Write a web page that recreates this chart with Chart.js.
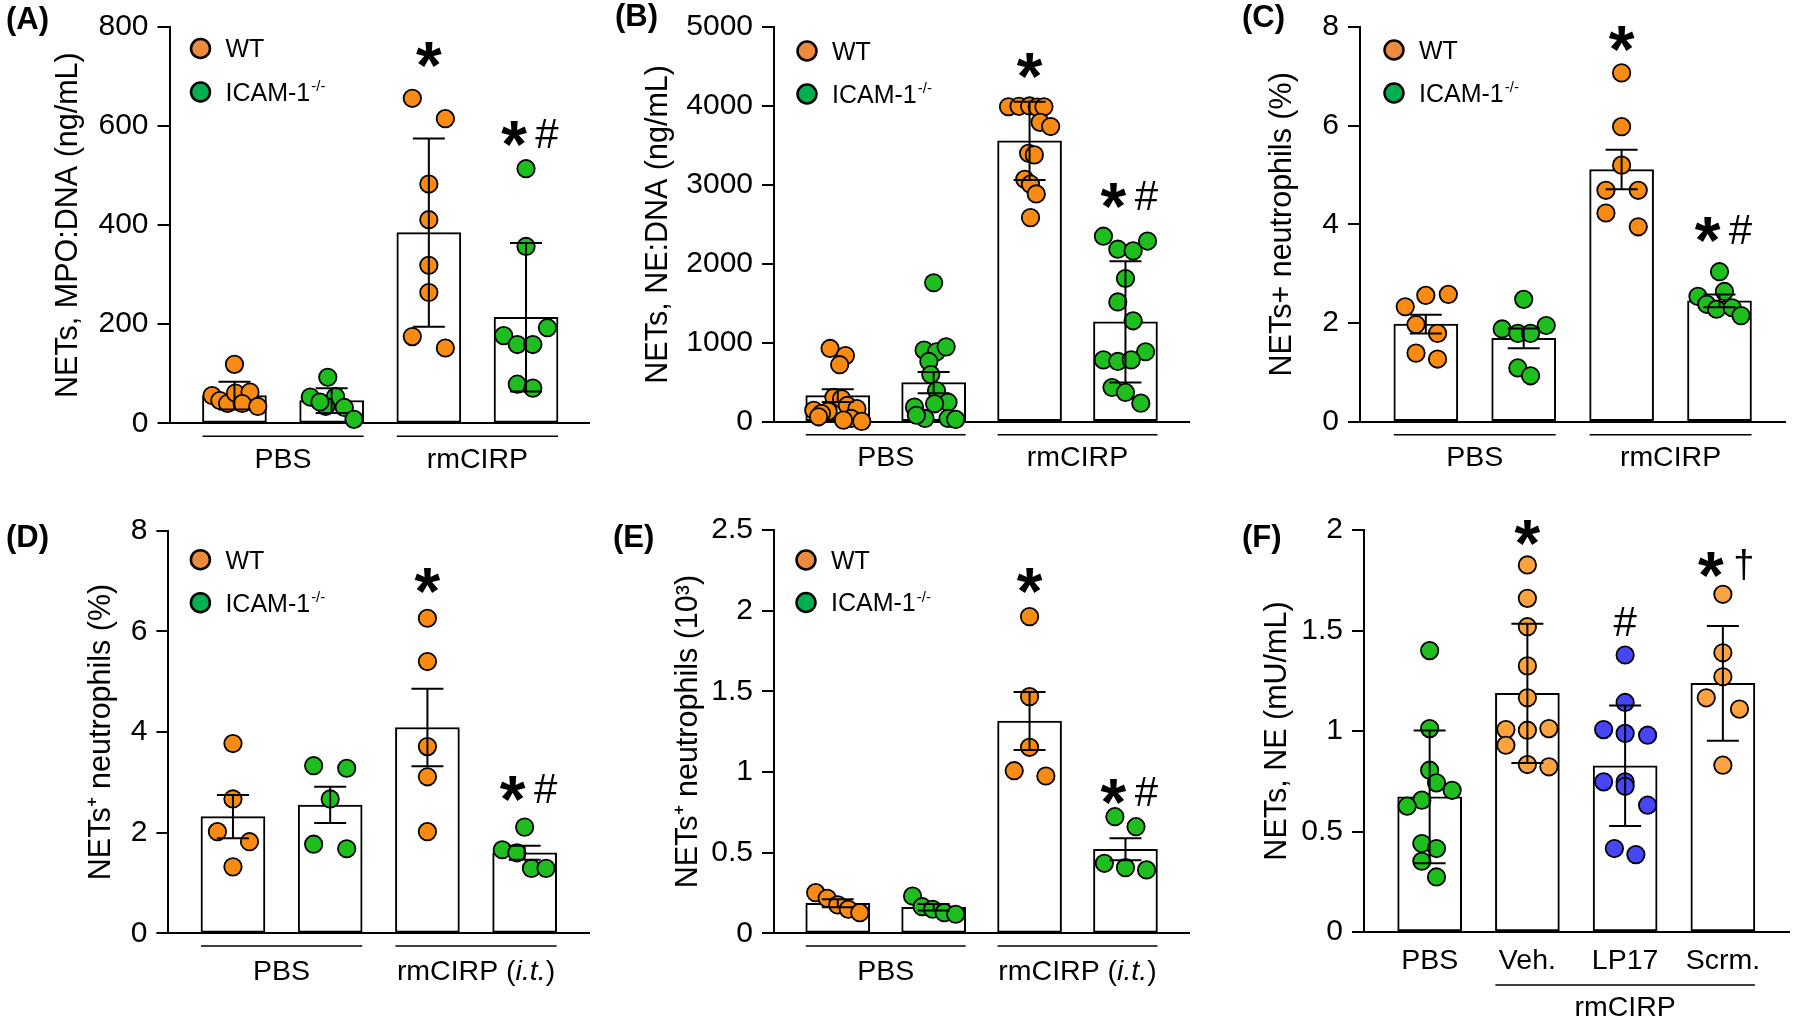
<!DOCTYPE html>
<html>
<head>
<meta charset="utf-8">
<script src="https://cdn.jsdelivr.net/npm/chart.js@4.4.1/dist/chart.umd.min.js"></script>
<style>
  body { margin: 0; background: #fff; }
  #fig { position: relative; width: 1800px; height: 1024px; background: #fff; }
  canvas { position: absolute; }
</style>
</head>
<body>
<div id="fig">
  <canvas id="cA" width="600" height="490" style="left:0px;top:0px"></canvas>
  <canvas id="cB" width="600" height="490" style="left:600px;top:0px"></canvas>
  <canvas id="cC" width="600" height="490" style="left:1200px;top:0px"></canvas>
  <canvas id="cD" width="600" height="534" style="left:0px;top:490px"></canvas>
  <canvas id="cE" width="600" height="534" style="left:600px;top:490px"></canvas>
  <canvas id="cF" width="600" height="534" style="left:1200px;top:490px"></canvas>
</div>
<script>
// ---- data ----
const legendLabels = ['WT', 'ICAM-1'];
const legendSup = ['', '-/-'];
const groupLabelsTop = ['PBS', 'rmCIRP'];
const groupLabelsDE = ['PBS', 'rmCIRP (i.t.)'];
const fLabels = ['PBS', 'Veh.', 'LP17', 'Scrm.'];
const fGroupLabel = 'rmCIRP';

// (A) MPO:DNA
const aTicks = [0, 200, 400, 600, 800];
const aMeans = [56, 46, 385, 214];
const aErr = [28, 25, 190, 150];
const aPointsY = [[119, 56, 46, 40, 61, 63, 40, 34], [93, 53, 54, 34, 32, 8, 43],
  [656, 615, 483, 411, 319, 264, 175, 152], [514, 357, 177, 159, 159, 193, 79, 71]];
const aPointsX = [[0, -0.23, -0.15, -0.07, 0.01, 0.16, 0.08, 0.24], [-0.04, -0.22, 0.04, -0.06, 0.13, 0.23, -0.12],
  [-0.17, 0.17, 0, 0, 0, 0, -0.17, 0.17], [0, 0, -0.23, -0.09, 0.07, 0.22, -0.09, 0.07]];
const aMarks = ['', '', '*', '*#'];
const aMarkAt = [0, 0, 744, 586];

// (B) NE:DNA
const bTicks = [0, 1000, 2000, 3000, 4000, 5000];
const bMeans = [330, 495, 3557, 1265];
const bErr = [82, 136, 495, 767];
const bPointsY = [[928, 837, 722, 309, 289, 206, 165, 144, 132, 103, 62, 41, 20, 4],
  [1760, 907, 886, 948, 763, 598, 392, 247, 185, 227, 41, 41, 29, 82],
  [3990, 3995, 4000, 3985, 3990, 3792, 3739, 3400, 3380, 3071, 3009, 2885, 2585],
  [2350, 2288, 2185, 2164, 1814, 1517, 1278, 886, 783, 763, 783, 433, 371, 235]];
const bPointsX = [[-0.08, 0.08, 0.02, -0.04, 0.04, 0.10, 0.2, -0.25, -0.1, -0.17, -0.2, 0.14, 0.06, 0.25],
  [0, -0.1, 0.03, 0.13, -0.05, -0.03, 0.03, 0.15, -0.2, 0.01, -0.09, 0.15, 0.23, -0.18],
  [-0.22, -0.11, 0, 0.08, 0.15, 0.11, 0.22, -0.01, 0.05, -0.05, 0.01, 0.07, 0.01],
  [-0.23, 0.23, -0.08, 0.08, 0, -0.08, 0.08, 0.21, -0.23, -0.08, 0.06, -0.14, 0, 0.16]];
const bMarks = ['', '', '*', '*#'];
const bMarkAt = [0, 0, 4512, 2864];

// (C) NETs+ neutrophils (%)
const cTicks = [0, 2, 4, 6, 8];
const cMeans = [1.98, 1.69, 5.11, 2.45];
const cErr = [0.19, 0.2, 0.4, 0.13];
const cPointsY = [[2.33, 2.56, 2.58, 1.97, 1.79, 1.39, 1.27], [2.48, 1.88, 1.95, 1.79, 1.79, 1.09, 0.93],
  [7.07, 5.98, 5.2, 4.69, 4.69, 4.23, 3.95], [3.04, 2.64, 2.54, 2.38, 2.28, 2.31, 2.15]];
const cPointsX = [[-0.21, 0, 0.23, -0.1, 0.12, -0.1, 0.12], [0, -0.22, 0.23, -0.06, 0.07, -0.06, 0.07],
  [0, 0, 0, -0.16, 0.17, -0.16, 0.17], [0, 0.05, -0.22, -0.13, -0.03, 0.13, 0.22]];
const cMarks = ['', '', '*', '*#'];
const cMarkAt = [0, 0, 7.77, 3.9];

// (D) NETs+ neutrophils (%), i.t.
const dTicks = [0, 2, 4, 6, 8];
const dMeans = [2.32, 2.55, 4.09, 1.60];
const dErr = [0.43, 0.36, 0.77, 0.14];
const dPointsY = [[3.77, 2.67, 2.02, 1.82, 1.32], [3.33, 3.28, 2.67, 1.77, 1.68],
  [6.26, 5.40, 3.71, 3.11, 2.02], [2.11, 1.66, 1.60, 1.29, 1.29]];
const dPointsX = [[0, 0, -0.16, 0.17, 0], [-0.17, 0.17, 0, -0.17, 0.17],
  [0, 0, 0, 0, 0], [0, -0.23, -0.08, 0.07, 0.22]];
const dMarks = ['', '', '*', '*#'];
const dMarkAt = [0, 0, 7.02, 2.88];

// (E) NETs+ neutrophils (10^3)
const eTicks = [0, 0.5, 1, 1.5, 2, 2.5];
const eMeans = [0.186, 0.161, 1.316, 0.521];
const eErr = [0.025, 0.02, 0.18, 0.068];
const ePointsY = [[0.252, 0.217, 0.176, 0.149, 0.128], [0.231, 0.165, 0.149, 0.128, 0.118],
  [1.963, 1.467, 1.153, 1.008, 0.975], [0.723, 0.661, 0.434, 0.407, 0.393]];
const ePointsX = [[-0.23, -0.11, 0, 0.11, 0.23], [-0.22, -0.12, -0.01, 0.11, 0.23],
  [0, 0, 0, -0.16, 0.17], [-0.11, 0.11, -0.22, 0, 0.22]];
const eMarks = ['', '', '*', '*#'];
const eMarkAt = [0, 0, 2.19, 0.878];

// (F) NETs, NE (mU/mL)
const fTicks = [0, 0.5, 1, 1.5, 2];
const fMeans = [0.672, 1.187, 0.827, 1.237];
const fErr = [0.33, 0.346, 0.30, 0.286];
const fPointsY = [[1.40, 1.012, 0.805, 0.742, 0.705, 0.656, 0.626, 0.44, 0.415, 0.352, 0.274],
  [1.826, 1.66, 1.519, 1.324, 1.165, 1.007, 1.004, 1.012, 0.929, 0.833, 0.822],
  [1.378, 1.142, 1.007, 0.988, 0.979, 0.747, 0.747, 0.725, 0.631, 0.415, 0.385],
  [1.68, 1.389, 1.27, 1.165, 1.109, 0.83]];
const fPointsX = [[0, 0, 0, 0.07, 0.23, -0.08, -0.23, -0.08, 0.07, -0.08, 0.07],
  [0, 0, 0, 0, 0, -0.22, 0, 0.22, -0.22, 0, 0.22],
  [0, 0, -0.22, 0, 0.23, -0.22, 0, 0, 0.23, -0.11, 0.11],
  [0, 0, 0, -0.17, 0.17, 0]];
const fMarks = ['', '*', '#', '*†'];
const fMarkAt = [0, 1.99, 1.543, 1.826];

// ---- styling ----
const FONT = '"Liberation Sans", Arial, Helvetica, sans-serif';
const ORANGE = '#F98B12';
const GREEN = '#1FBE1F';
const LEG_ORANGE = '#EC8A3E';
const LEG_GREEN = '#00B050';
const F_ORANGE = '#FCA340';
const F_BLUE = '#4646F6';

Chart.defaults.font.family = FONT;
Chart.defaults.color = '#000';

const panels = [
  { id: 'cA', letter: '(A)', title: 'NETs, MPO:DNA (ng/mL)', ticks: aTicks, means: aMeans, err: aErr, py: aPointsY, px: aPointsX,
    marks: aMarks, markAt: aMarkAt, colors: [ORANGE, GREEN, ORANGE, GREEN], groups: groupLabelsTop,
    box: [0, 0, 600, 490], axisX: 169.5, right: 593, top: 20, bottom: 423.3, firstBar: 235, step: 98,
    titleX: 69, legend: [31, 21.5, 65], letterPos: [6, 21] },
  { id: 'cB', letter: '(B)', title: 'NETs, NE:DNA (ng/mL)', ticks: bTicks, means: bMeans, err: bErr, py: bPointsY, px: bPointsX,
    marks: bMarks, markAt: bMarkAt, colors: [ORANGE, GREEN, ORANGE, GREEN], groups: groupLabelsTop,
    box: [600, 0, 600, 490], axisX: 774, right: 1199, top: 17.3, bottom: 421.7, firstBar: 839.2, step: 98.1,
    titleX: 659, legend: [33, 24, 67], letterPos: [615, 18] },
  { id: 'cC', letter: '(C)', title: 'NETs+ neutrophils (%)', ticks: cTicks, means: cMeans, err: cErr, py: cPointsY, px: cPointsX,
    marks: cMarks, markAt: cMarkAt, colors: [ORANGE, GREEN, ORANGE, GREEN], groups: groupLabelsTop,
    box: [1200, 0, 600, 490], axisX: 1360, right: 1785.5, top: 18.3, bottom: 421.7, firstBar: 1425.8, step: 97.9,
    titleX: 1283, legend: [34, 23, 66], letterPos: [1242, 19] },
  { id: 'cD', letter: '(D)', title: 'NETs\u207A neutrophils (%)', ticks: dTicks, means: dMeans, err: dErr, py: dPointsY, px: dPointsX,
    marks: dMarks, markAt: dMarkAt, colors: [ORANGE, GREEN, ORANGE, GREEN], groups: groupLabelsDE,
    box: [0, 490, 600, 534], axisX: 168.4, right: 592.4, top: 530.7, bottom: 933.3, firstBar: 233.4, step: 97.9,
    titleX: 102, legend: [32, 29, 72], letterPos: [6, 539] },
  { id: 'cE', letter: '(E)', title: 'NETs\u207A neutrophils (10\u00B3)', ticks: eTicks, means: eMeans, err: eErr, py: ePointsY, px: ePointsX,
    marks: eMarks, markAt: eMarkAt, colors: [ORANGE, GREEN, ORANGE, GREEN], groups: groupLabelsDE,
    box: [600, 490, 600, 534], axisX: 774, right: 1199, top: 530, bottom: 933.3, firstBar: 839.2, step: 98.1,
    titleX: 689, legend: [32, 30, 72.5], letterPos: [613, 539] },
  { id: 'cF', letter: '(F)', title: 'NETs, NE (mU/mL)', ticks: fTicks, means: fMeans, err: fErr, py: fPointsY, px: fPointsX,
    marks: fMarks, markAt: fMarkAt, colors: [GREEN, F_ORANGE, F_BLUE, F_ORANGE], groups: null,
    box: [1200, 490, 600, 534], axisX: 1364, right: 1795, top: 530, bottom: 932, firstBar: 1430.5, step: 99,
    titleX: 1277.5, legend: null, letterPos: [1242, 539] }
];

const panelById = {};
panels.forEach(p => { panelById[p.id] = p; });

// text centred on its cap height
function capText(ctx, str, x, yc, size, style, align) {
  ctx.font = (style || '') + ' ' + size + 'px ' + FONT;
  ctx.textAlign = align || 'center';
  ctx.textBaseline = 'alphabetic';
  ctx.fillText(str, x, yc + size * 0.358);
}

// text centred on its real glyph box
function glyphText(ctx, str, x, yc, font, align) {
  ctx.font = font;
  ctx.textAlign = align || 'center';
  ctx.textBaseline = 'alphabetic';
  const m = ctx.measureText(str);
  ctx.fillText(str, x, yc + (m.actualBoundingBoxAscent - m.actualBoundingBoxDescent) / 2);
}

// group label, "i.t." in italics
function groupText(ctx, text, cx, yc, size) {
  const m = text.match(/^(.*\()(i\.t\.)(\).*)$/);
  const runs = m ? [[m[1], ''], [m[2], 'italic '], [m[3], '']] : [[text, '']];
  let total = 0;
  runs.forEach(r => {
    ctx.font = r[1] + size + 'px ' + FONT;
    r[2] = ctx.measureText(r[0]).width;
    total += r[2];
  });
  let x = cx - total / 2;
  ctx.textAlign = 'left';
  ctx.textBaseline = 'alphabetic';
  runs.forEach(r => {
    ctx.font = r[1] + size + 'px ' + FONT;
    ctx.fillText(r[0], x, yc + size * 0.358);
    x += r[2];
  });
}

function markFont(ch) {
  if (ch === '*') return 'bold 66px ' + FONT;
  if (ch === '#') return '42px ' + FONT;
  return '38px ' + FONT;
}

const extras = {
  id: 'extras',
  afterDatasetsDraw(chart) {
    const p = panelById[chart.canvas.id];
    const ctx = chart.ctx, xs = chart.scales.x, ys = chart.scales.y;
    ctx.save();
    ctx.strokeStyle = '#000';
    ctx.lineWidth = 2;
    p.means.forEach((m, i) => {
      const cx = xs.getPixelForValue(i + 1);
      const t = ys.getPixelForValue(m + p.err[i]);
      const b = ys.getPixelForValue(m - p.err[i]);
      ctx.beginPath();
      ctx.moveTo(cx, t); ctx.lineTo(cx, b);
      ctx.moveTo(cx - 16, t); ctx.lineTo(cx + 16, t);
      ctx.moveTo(cx - 16, b); ctx.lineTo(cx + 16, b);
      ctx.stroke();
    });
    ctx.restore();
  },
  afterDraw(chart) {
    const p = panelById[chart.canvas.id];
    const ctx = chart.ctx, xs = chart.scales.x, ys = chart.scales.y;
    const area = chart.chartArea;
    const ox = p.box[0], oy = p.box[1];
    ctx.save();
    ctx.fillStyle = '#000';
    ctx.strokeStyle = '#000';

    // panel letter
    glyphText(ctx, p.letter, p.letterPos[0] - ox, p.letterPos[1] - oy, 'bold 31px ' + FONT, 'left');

    // legend
    if (p.legend) {
      const lx = area.left + p.legend[0];
      [LEG_ORANGE, LEG_GREEN].forEach((col, k) => {
        const ly = area.top + p.legend[k + 1];
        ctx.beginPath();
        ctx.arc(lx, ly, 9.5, 0, Math.PI * 2);
        ctx.fillStyle = col;
        ctx.fill();
        ctx.lineWidth = 2.5;
        ctx.stroke();
        ctx.fillStyle = '#000';
        capText(ctx, legendLabels[k], lx + 25, ly, 25, '', 'left');
        if (legendSup[k]) {
          ctx.font = '25px ' + FONT;
          const w = ctx.measureText(legendLabels[k]).width;
          ctx.font = '15px ' + FONT;
          ctx.textAlign = 'left';
          ctx.fillText(legendSup[k], lx + 25 + w + 1, ly - 1);
        }
      });
    }

    // significance marks
    p.marks.forEach((mk, i) => {
      if (!mk) return;
      const cx = xs.getPixelForValue(i + 1);
      const yc = ys.getPixelForValue(p.markAt[i]);
      if (mk.length === 1) {
        glyphText(ctx, mk, cx, yc, markFont(mk));
      } else {
        glyphText(ctx, mk[0], cx - 12, yc, markFont(mk[0]));
        glyphText(ctx, mk[1], cx + 21, yc, markFont(mk[1]));
      }
    });

    // group lines and labels
    const half = 32;
    ctx.lineWidth = 1.6;
    if (p.groups) {
      const lineY = area.bottom + (p.box[1] === 0 ? 13 : 12.7);
      const labY = area.bottom + (p.box[1] === 0 ? 34.5 : 36);
      [[1, 2], [3, 4]].forEach((g, k) => {
        const x1 = xs.getPixelForValue(g[0]) - half;
        const x2 = xs.getPixelForValue(g[1]) + half;
        ctx.beginPath();
        ctx.moveTo(x1, lineY); ctx.lineTo(x2, lineY);
        ctx.stroke();
        groupText(ctx, p.groups[k], (x1 + x2) / 2, labY, 28.5);
      });
    } else {
      fLabels.forEach((lab, i) => {
        capText(ctx, lab, xs.getPixelForValue(i + 1), area.bottom + 26.5, 28.5);
      });
      const x1 = xs.getPixelForValue(2) - half;
      const x2 = xs.getPixelForValue(4) + half;
      ctx.beginPath();
      ctx.moveTo(x1, area.bottom + 53); ctx.lineTo(x2, area.bottom + 53);
      ctx.stroke();
      capText(ctx, fGroupLabel, (x1 + x2) / 2, area.bottom + 74, 28.5);
    }
    ctx.restore();
  }
};

panels.forEach(p => {
  const [bl, bt, bw, bh] = p.box;
  const xMin = 1 - (p.firstBar - p.axisX) / p.step;
  const xMax = xMin + (p.right - p.axisX) / p.step;
  const yMax = p.ticks[p.ticks.length - 1];

  const datasets = [];
  p.py.forEach((vals, i) => {
    datasets.push({
      type: 'scatter',
      data: vals.map((v, k) => ({ x: i + 1 + p.px[i][k], y: v })),
      pointRadius: 8.7,
      pointBackgroundColor: p.colors[i],
      pointBorderColor: '#000',
      pointBorderWidth: 1.8,
      clip: false,
      order: 0
    });
  });
  datasets.push({
    type: 'bar',
    data: p.means.map((m, i) => ({ x: i + 1, y: m })),
    backgroundColor: '#fff',
    borderColor: '#000',
    borderWidth: 2,
    borderSkipped: false,
    barThickness: 64,
    clip: false,
    order: 1
  });

  new Chart(document.getElementById(p.id), {
    type: 'bar',
    data: { datasets },
    plugins: [extras],
    options: {
      responsive: false,
      animation: false,
      events: [],
      layout: { padding: { left: 0, top: p.top - bt, right: bl + bw - p.right, bottom: 0 } },
      plugins: { legend: { display: false }, tooltip: { enabled: false } },
      scales: {
        x: {
          type: 'linear',
          min: xMin,
          max: xMax,
          offset: false,
          ticks: { display: false },
          grid: { display: false },
          border: { display: true, color: '#000', width: 2 },
          afterFit: s => { s.height = bt + bh - p.bottom; }
        },
        y: {
          type: 'linear',
          min: 0,
          max: yMax,
          afterBuildTicks: s => { s.ticks = p.ticks.map(v => ({ value: v })); },
          ticks: { callback: v => String(v), font: { size: 30 }, color: '#000', padding: 9 },
          grid: { drawOnChartArea: false, drawTicks: true, tickLength: 12, color: '#000', lineWidth: 2 },
          border: { display: true, color: '#000', width: 2 },
          title: { display: true, text: p.title, color: '#000', font: { size: 30.5 },
                   padding: { top: p.titleX - bl - 18.3, bottom: 0 } },
          afterFit: s => { s.width = p.axisX - bl; }
        }
      }
    }
  });
});
</script>
</body>
</html>
